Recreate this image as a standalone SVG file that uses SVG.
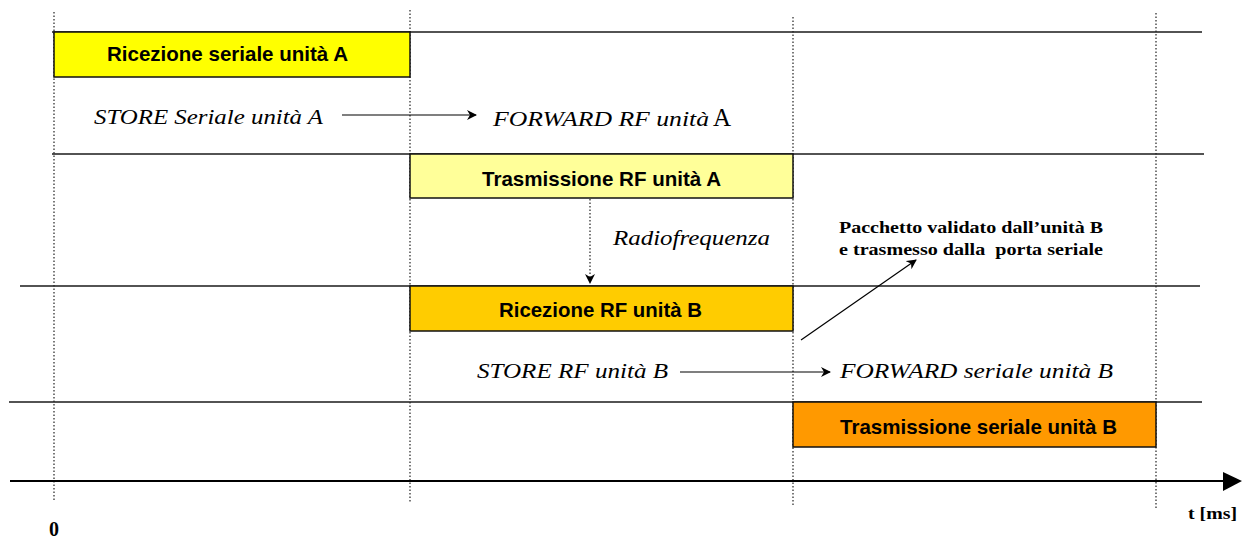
<svg xmlns="http://www.w3.org/2000/svg" width="1245" height="538" viewBox="0 0 1245 538">
<style>
.bg{fill:#ffffff}
.grid{stroke:#1a1a1a;stroke-width:1.5;fill:none}
.dot{stroke:#222;stroke-width:1.2;stroke-dasharray:1.5 2;fill:none}
.box{stroke:#111;stroke-width:1.5}
.lbl{font-family:"Liberation Sans",Arial,sans-serif;font-weight:bold;font-size:21px;fill:#000}
.it{font-family:"Liberation Serif","Times New Roman",serif;font-style:italic;font-size:22px;fill:#000}
.bt{font-family:"Liberation Serif","Times New Roman",serif;font-weight:bold;font-size:17px;fill:#000}
.conn{stroke:#000;stroke-width:1.2;fill:none}
</style>
<defs>
<marker id="ah" viewBox="0 0 10 10" refX="9" refY="5" markerWidth="10" markerHeight="10" markerUnits="userSpaceOnUse" orient="auto">
<path d="M0,0 L10,5 L0,10 L3,5 Z" fill="#000"/>
</marker>
</defs>
<rect class="bg" x="0" y="0" width="1245" height="538"/>
<g id="grid">
<line class="grid" x1="52" y1="32" x2="1202" y2="32"/>
<line class="grid" x1="52" y1="154" x2="1204" y2="154"/>
<line class="grid" x1="20" y1="286" x2="1200" y2="286"/>
<line class="grid" x1="9" y1="402" x2="1202" y2="402"/>
<line class="dot" x1="54" y1="12" x2="54" y2="500"/>
<line class="dot" x1="410" y1="10" x2="410" y2="502"/>
<line class="dot" x1="793" y1="17" x2="793" y2="505"/>
<line class="dot" x1="1156" y1="13" x2="1156" y2="509"/>
</g>
<g id="axis">
<line x1="10" y1="481" x2="1224" y2="481" stroke="#000" stroke-width="2"/>
<polygon points="1223,472 1242,481 1223,491" fill="#000"/>
<text class="bt" x="1188" y="519" textLength="49" lengthAdjust="spacingAndGlyphs">t [ms]</text>
<text class="bt" x="49" y="536" style="font-size:20px">0</text>
</g>
<g id="ricezione-seriale-a">
<rect class="box" x="54" y="32" width="356" height="45" fill="#ffff00"/>
<text class="lbl" x="107" y="61" textLength="241" lengthAdjust="spacingAndGlyphs">Ricezione seriale unità A</text>
</g>
<g id="store-a">
<text class="it" x="94" y="124" textLength="229" lengthAdjust="spacingAndGlyphs">STORE Seriale unità A</text>
</g>
<g id="forward-a">
<text class="it" x="493" y="126" textLength="216" lengthAdjust="spacingAndGlyphs">FORWARD RF unità</text>
<text x="713" y="126" font-family="'Liberation Serif','Times New Roman',serif" font-size="25" fill="#000">A</text>
</g>
<g id="trasmissione-rf-a">
<rect class="box" x="410" y="154" width="383" height="44" fill="#ffff99"/>
<text class="lbl" x="482" y="186" textLength="239" lengthAdjust="spacingAndGlyphs">Trasmissione RF unità A</text>
</g>
<g id="radiofrequenza">
<text class="it" x="613" y="245" textLength="157" lengthAdjust="spacingAndGlyphs">Radiofrequenza</text>
</g>
<g id="ricezione-rf-b">
<rect class="box" x="410" y="286" width="383" height="45" fill="#ffcc00"/>
<text class="lbl" x="499" y="317" textLength="203" lengthAdjust="spacingAndGlyphs">Ricezione RF unità B</text>
</g>
<g id="pacchetto">
<text class="bt" x="839" y="233" textLength="264" lengthAdjust="spacingAndGlyphs">Pacchetto validato dall’unità B</text>
<text class="bt" x="839" y="255" textLength="264" lengthAdjust="spacingAndGlyphs" xml:space="preserve">e trasmesso dalla  porta seriale</text>
</g>
<g id="store-b">
<text class="it" x="477" y="378" textLength="191" lengthAdjust="spacingAndGlyphs">STORE RF unità B</text>
</g>
<g id="forward-b">
<text class="it" x="840" y="378" textLength="273" lengthAdjust="spacingAndGlyphs">FORWARD seriale unità B</text>
</g>
<g id="trasmissione-seriale-b">
<rect class="box" x="793" y="402" width="363" height="45" fill="#ff9900"/>
<text class="lbl" x="840" y="434" textLength="277" lengthAdjust="spacingAndGlyphs">Trasmissione seriale unità B</text>
</g>
<g id="connectors">
<line class="conn" x1="342" y1="115" x2="476" y2="115" marker-end="url(#ah)"/>
<line class="conn" x1="680" y1="372" x2="830" y2="372" marker-end="url(#ah)"/>
<line class="dot" x1="590" y1="199" x2="590" y2="283" marker-end="url(#ah)"/>
<line class="conn" x1="801" y1="340" x2="916" y2="260" marker-end="url(#ah)"/>
</g>
</svg>
